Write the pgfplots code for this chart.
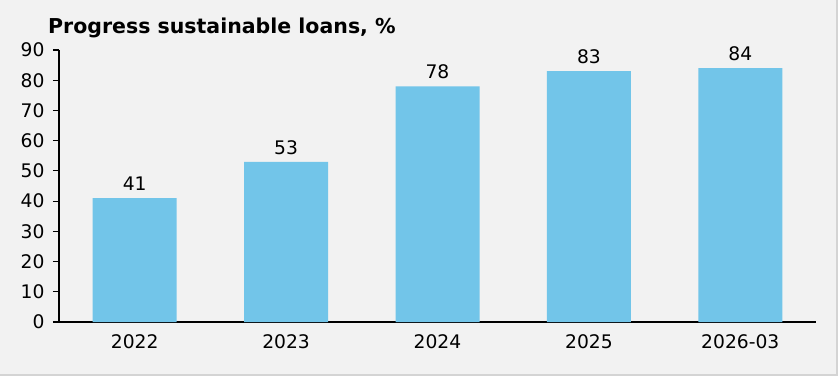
\documentclass[border=0pt]{standalone}
\usepackage{pgfplots}
\pgfplotsset{compat=1.18}
\usepackage{fontspec}
\setmainfont{DejaVu Sans}
\definecolor{bg}{HTML}{F2F2F2}
\definecolor{shadow}{HTML}{D4D4D4}
\definecolor{bar}{HTML}{72C5E9}
\begin{document}
\begin{tikzpicture}[x=1pt,y=1pt]
\useasboundingbox (0,0) rectangle (838,376);
\fill[shadow] (0,0) rectangle (838,376);
\fill[bg] (0,2) rectangle (836,376);
\node[anchor=base west,inner sep=0pt,font=\fontsize{20.5}{24}\selectfont\bfseries] at (48,343) {Progress sustainable loans, \%};
\begin{axis}[
  at={(59pt,54pt)}, anchor=south west,
  scale only axis, width=757pt, height=272pt,
  xmin=-0.5, xmax=4.5, ymin=0, ymax=90,
  axis lines=left, axis line style={-, line width=1.4pt},
  ytick={0,10,...,90},
  xtick={0,1,2,3,4},
  xticklabels={2022,2023,2024,2025,2026-03},
  x tick style={draw=none},
  y tick style={line width=1.2pt, black},
  tick align=outside, major tick length=6pt,
  ticklabel style={font=\fontsize{18.7}{21}\selectfont},
  /pgf/number format/assume math mode=true,
  yticklabel style={xshift=-5pt},
  xticklabel style={yshift=-3pt},
  ybar, bar width=84pt,
  nodes near coords,
  nodes near coords style={font=\fontsize{18.7}{21}\selectfont, yshift=4pt},
  clip=false,
]
\addplot[fill=bar, draw=none] coordinates {(0,41) (1,53) (2,78) (3,83) (4,84)};
\end{axis}
\end{tikzpicture}
\end{document}
